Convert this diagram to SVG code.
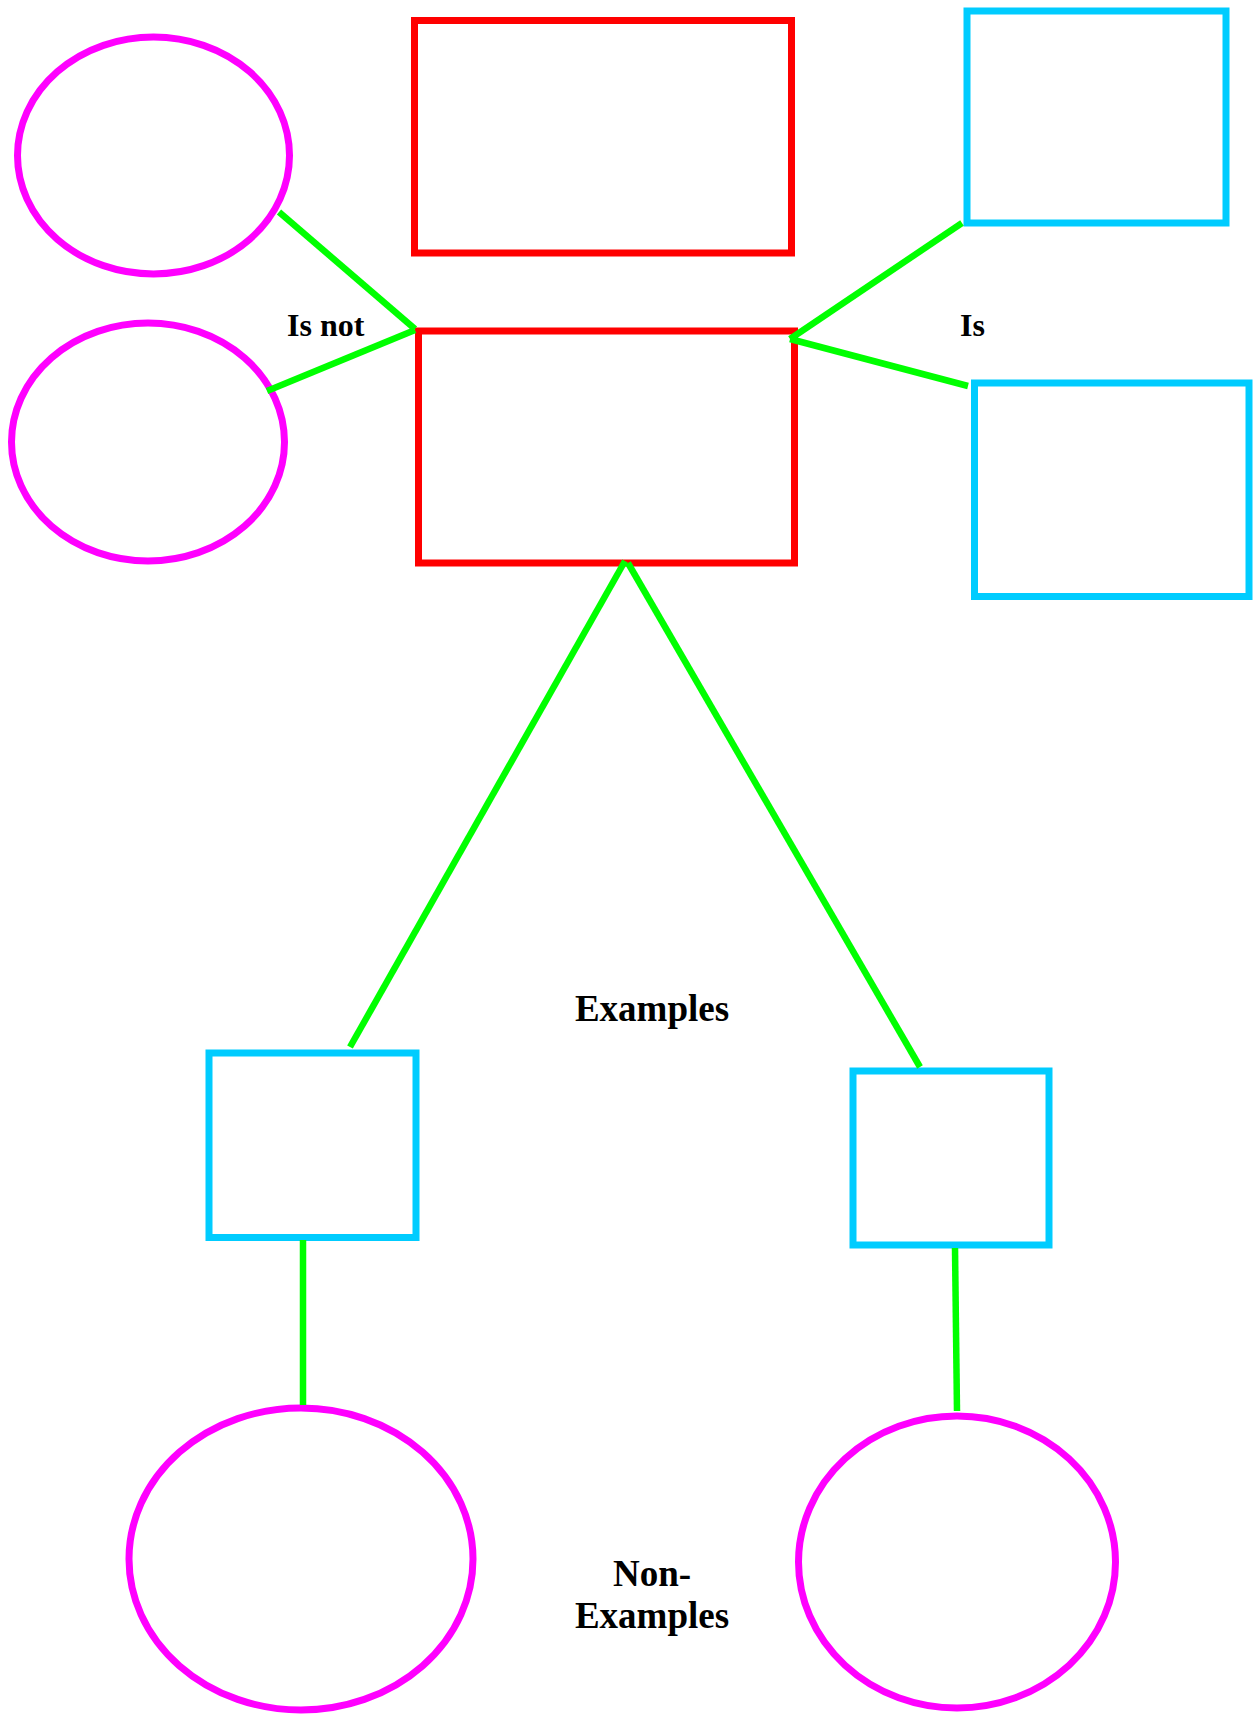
<svg xmlns="http://www.w3.org/2000/svg" width="1258" height="1714" viewBox="0 0 1258 1714">
  <style>
    .bg { fill: #ffffff; }
    .red { fill: none; stroke: #ff0000; stroke-width: 7; }
    .cyan { fill: none; stroke: #00ccff; stroke-width: 7; }
    .oval { fill: none; stroke: #ff00ff; stroke-width: 7; }
    .link { fill: none; stroke: #00ff00; stroke-width: 6.5; }
    .label { font-family: "Liberation Serif", "Times New Roman", serif; font-weight: bold; fill: #000000; }
  </style>
  <rect class="bg" x="0" y="0" width="1258" height="1714"/>

  <!-- central concept -->
  <g id="title-box">
    <rect class="red" x="414.5" y="20.5" width="377" height="232.5"/>
  </g>
  <g id="concept-box">
    <rect class="red" x="418.5" y="331" width="376" height="232"/>
  </g>

  <!-- "is not" ovals -->
  <g id="isnot-top">
    <ellipse class="oval" cx="153.5" cy="155.5" rx="136" ry="118.5"/>
  </g>
  <g id="isnot-bottom">
    <ellipse class="oval" cx="148" cy="442" rx="136.5" ry="119"/>
  </g>

  <!-- "is" boxes -->
  <g id="is-top">
    <rect class="cyan" x="967" y="11" width="259" height="212"/>
  </g>
  <g id="is-bottom">
    <rect class="cyan" x="974.5" y="383" width="274.5" height="213.5"/>
  </g>

  <!-- examples -->
  <g id="example-left">
    <rect class="cyan" x="209" y="1053" width="207" height="184.5"/>
  </g>
  <g id="example-right">
    <rect class="cyan" x="853" y="1071" width="196" height="174"/>
  </g>

  <!-- non-examples -->
  <g id="nonexample-left">
    <ellipse class="oval" cx="301" cy="1559" rx="172" ry="151"/>
  </g>
  <g id="nonexample-right">
    <ellipse class="oval" cx="957" cy="1562" rx="158.5" ry="146"/>
  </g>

  <!-- connectors, drawn over the node outlines -->
  <g id="connectors">
    <line class="link" x1="279" y1="212" x2="415" y2="329"/>
    <line class="link" x1="267" y1="391" x2="415" y2="330"/>
    <line class="link" x1="790" y1="339" x2="962" y2="223"/>
    <line class="link" x1="790" y1="339" x2="968" y2="386"/>
    <line class="link" x1="625" y1="561" x2="350" y2="1047"/>
    <line class="link" x1="628" y1="563" x2="920" y2="1067"/>
    <line class="link" x1="303" y1="1240" x2="303" y2="1405"/>
    <line class="link" x1="955" y1="1248" x2="957" y2="1411"/>
  </g>

  <!-- labels -->
  <g id="labels">
    <text class="label" x="287" y="336" font-size="32">Is not</text>
    <text class="label" x="960" y="336" font-size="32">Is</text>
    <text class="label" x="652" y="1021" font-size="37" text-anchor="middle">Examples</text>
    <text class="label" x="652" y="1586" font-size="37" text-anchor="middle">Non-</text>
    <text class="label" x="652" y="1628" font-size="37" text-anchor="middle">Examples</text>
  </g>
</svg>
